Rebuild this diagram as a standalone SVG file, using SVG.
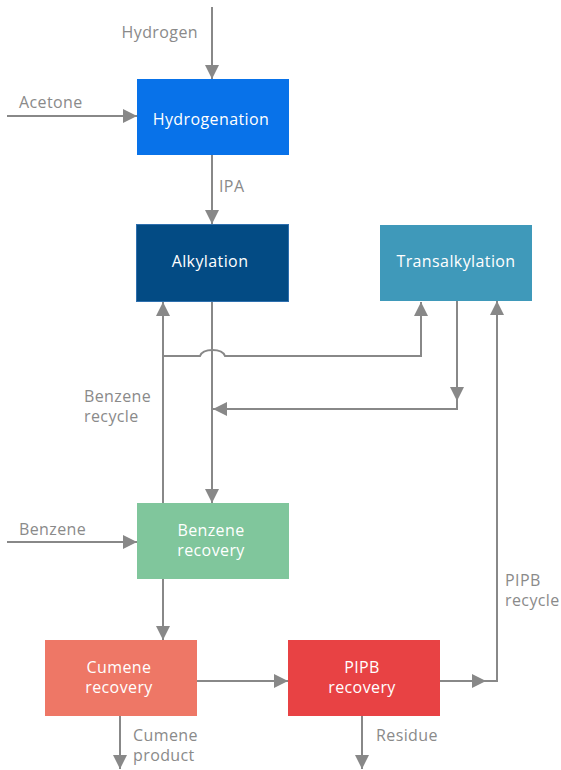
<svg xmlns="http://www.w3.org/2000/svg" width="561" height="770" viewBox="0 0 561 770">
<style>
.c{fill:none;stroke:#888;stroke-width:2}
.l{font-family:"Open Sans","Liberation Sans",sans-serif;font-size:16px;letter-spacing:0.4px;fill:#8a8a8a}
.t{font-family:"Open Sans","Liberation Sans",sans-serif;font-size:16px;letter-spacing:0.4px;fill:#fff;text-anchor:middle}
</style>
<defs>
<marker id="a" viewBox="0 0 14 14" refX="14" refY="7" markerWidth="14" markerHeight="14" markerUnits="userSpaceOnUse" orient="auto">
<path d="M0,0L14,7L0,14Z" fill="#888"/>
</marker>
</defs>
<rect width="561" height="770" fill="#fff"/>
<g id="connectors">
<line class="c" x1="212" y1="7" x2="212" y2="79" marker-end="url(#a)"/>
<line class="c" x1="7" y1="116" x2="137" y2="116" marker-end="url(#a)"/>
<line class="c" x1="212" y1="155" x2="212" y2="224" marker-end="url(#a)"/>
<line class="c" x1="212" y1="302" x2="212" y2="503" marker-end="url(#a)"/>
<line class="c" x1="163" y1="503" x2="163" y2="302" marker-end="url(#a)"/>
<path class="c" d="M163,356H200C203,348 222,348 225,356H421V302" marker-end="url(#a)"/>
<line class="c" x1="457" y1="301" x2="457" y2="401" marker-end="url(#a)"/>
<path class="c" d="M457,400V409H213" marker-end="url(#a)"/>
<line class="c" x1="7" y1="542" x2="137" y2="542" marker-end="url(#a)"/>
<line class="c" x1="163" y1="579" x2="163" y2="640" marker-end="url(#a)"/>
<line class="c" x1="197" y1="681" x2="288" y2="681" marker-end="url(#a)"/>
<line class="c" x1="440" y1="681" x2="486" y2="681" marker-end="url(#a)"/>
<path class="c" d="M485,681H497V301" marker-end="url(#a)"/>
<line class="c" x1="120" y1="716" x2="120" y2="769" marker-end="url(#a)"/>
<line class="c" x1="362" y1="716" x2="362" y2="769" marker-end="url(#a)"/>
</g>
<g id="labels">
<text class="l" x="198" y="38" text-anchor="end">Hydrogen</text>
<text class="l" x="19" y="108">Acetone</text>
<text class="l" x="219" y="192">IPA</text>
<text class="l" x="84" y="402">Benzene</text>
<text class="l" x="84" y="422">recycle</text>
<text class="l" x="19" y="535">Benzene</text>
<text class="l" x="505" y="586">PIPB</text>
<text class="l" x="505" y="606">recycle</text>
<text class="l" x="133" y="741">Cumene</text>
<text class="l" x="133" y="761">product</text>
<text class="l" x="376" y="741">Residue</text>
</g>
<g id="hydrogenation">
<rect x="137" y="79" width="152" height="76" fill="#0872E9"/>
<text class="t" x="211" y="125">Hydrogenation</text>
</g>
<g id="alkylation">
<rect x="136.5" y="224.5" width="152" height="77" fill="#034B84" stroke="#2E6FAE" stroke-width="1"/>
<text class="t" x="210" y="267">Alkylation</text>
</g>
<g id="transalkylation">
<rect x="380" y="225" width="152" height="76" fill="#3F99BA"/>
<text class="t" x="456" y="267">Transalkylation</text>
</g>
<g id="benzene-recovery">
<rect x="137" y="503" width="152" height="76" fill="#80C69C"/>
<text class="t" x="211" y="536">Benzene</text>
<text class="t" x="211" y="556">recovery</text>
</g>
<g id="cumene-recovery">
<rect x="45" y="640" width="152" height="76" fill="#EE7766"/>
<text class="t" x="119" y="673">Cumene</text>
<text class="t" x="119" y="693">recovery</text>
</g>
<g id="pipb-recovery">
<rect x="288" y="640" width="152" height="76" fill="#E84244"/>
<text class="t" x="362" y="673">PIPB</text>
<text class="t" x="362" y="693">recovery</text>
</g>
</svg>
